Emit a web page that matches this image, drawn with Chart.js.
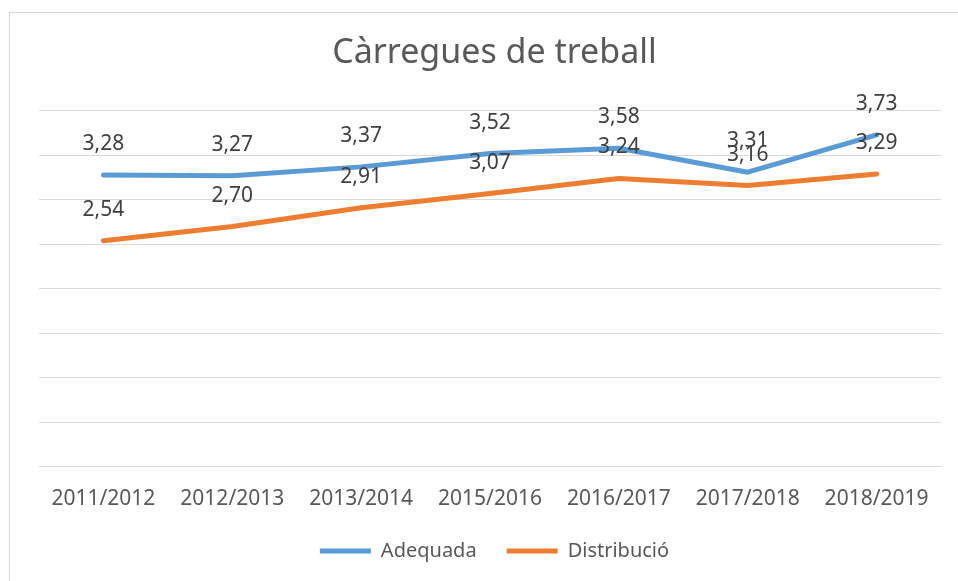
<!DOCTYPE html>
<html>
<head>
<meta charset="utf-8">
<script src="https://cdn.jsdelivr.net/npm/chart.js@4/dist/chart.umd.min.js"></script>
<style>
  html, body { margin: 0; padding: 0; background: #fff; }
  #wrap { position: relative; width: 958px; height: 581px; overflow: hidden; }
  #frame { position: absolute; left: 9px; top: 12px; width: 1000px; height: 1000px;
           border-left: 1px solid #d9d9d9; border-top: 1px solid #d9d9d9; }
  #cv { position: absolute; left: 0; top: 0; }
</style>
</head>
<body>
<div id="wrap">
  <div id="frame"></div>
  <canvas id="cv" width="958" height="581"></canvas>
</div>
<script>
  var categories = ["2011/2012", "2012/2013", "2013/2014", "2015/2016", "2016/2017", "2017/2018", "2018/2019"];
  var adequada = [3.28, 3.27, 3.37, 3.52, 3.58, 3.31, 3.73];
  var distribucio = [2.54, 2.70, 2.91, 3.07, 3.24, 3.16, 3.29];
  var yTicks = [0, 0.5, 1, 1.5, 2, 2.5, 3, 3.5, 4];

  var textColor = "#595959";
  var fontName = "'Noto Sans', sans-serif";

  // etiquetes de dades a sobre de cada punt, amb coma decimal
  var valueLabels = {
    id: "valueLabels",
    afterDatasetsDraw: function(chart) {
      var ctx = chart.ctx;
      ctx.save();
      ctx.font = "21px " + fontName;
      ctx.fillStyle = "#404040";
      ctx.textAlign = "center";
      ctx.textBaseline = "alphabetic";
      chart.data.datasets.forEach(function(ds, i) {
        var meta = chart.getDatasetMeta(i);
        meta.data.forEach(function(pt, j) {
          var txt = ds.data[j].toFixed(2).replace(".", ",");
          ctx.fillText(txt, pt.x, pt.y - 25);
        });
      });
      ctx.restore();
    }
  };

  var ctx = document.getElementById("cv").getContext("2d");
  new Chart(ctx, {
    type: "line",
    data: {
      labels: categories,
      datasets: [
        {
          label: "Adequada",
          data: adequada,
          borderColor: "#5b9bd5",
          backgroundColor: "#5b9bd5",
          borderWidth: 5,
          borderCapStyle: "round",
          borderJoinStyle: "round",
          pointRadius: 0,
          tension: 0
        },
        {
          label: "Distribució",
          data: distribucio,
          borderColor: "#ed7d31",
          backgroundColor: "#ed7d31",
          borderWidth: 5,
          borderCapStyle: "round",
          borderJoinStyle: "round",
          pointRadius: 0,
          tension: 0
        }
      ]
    },
    options: {
      responsive: false,
      animation: false,
      layout: { padding: { left: 39, right: 8, top: 0, bottom: 10 } },
      plugins: {
        title: {
          display: true,
          text: "Càrregues de treball",
          color: textColor,
          font: { family: fontName, size: 34, weight: "normal" },
          padding: { top: 33, bottom: 37 }
        },
        legend: {
          position: "bottom",
          labels: {
            color: textColor,
            font: { family: fontName, size: 20 },
            usePointStyle: true,
            pointStyle: "line",
            pointStyleWidth: 51,
            padding: 30
          }
        },
        tooltip: { enabled: false }
      },
      scales: {
        x: {
          offset: true,
          grid: { display: false, drawTicks: false },
          border: { display: false },
          ticks: {
            color: textColor,
            font: { family: fontName, size: 21 },
            padding: 20,
            maxRotation: 0,
            autoSkip: false
          },
          afterFit: function(scale) {
            scale.height = scale.height - 21;
          }
        },
        y: {
          min: 0,
          max: 4,
          afterBuildTicks: function(scale) {
            scale.ticks = yTicks.map(function(v) { return { value: v }; });
          },
          grid: { color: "#d9d9d9", lineWidth: 1, drawTicks: false },
          border: { display: false },
          ticks: { display: false }
        },
        // eix buit a la dreta, només per deixar marge
        yRight: {
          position: "right",
          grid: { display: false, drawTicks: false },
          border: { display: false },
          ticks: { display: false },
          afterFit: function(scale) {
            scale.width = 9;
          }
        }
      }
    },
    plugins: [valueLabels]
  });
</script>
</body>
</html>
